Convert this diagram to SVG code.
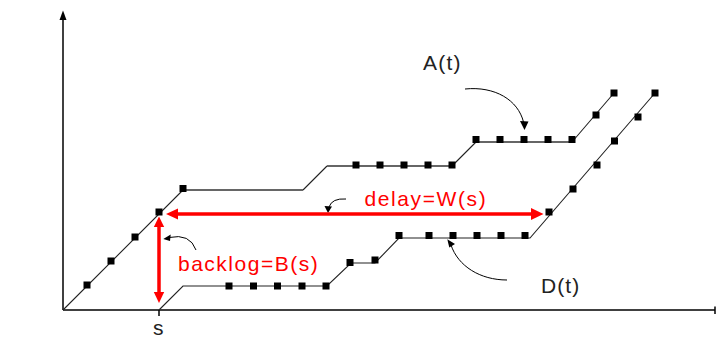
<svg xmlns="http://www.w3.org/2000/svg" width="716" height="337" viewBox="0 0 716 337">
<style>
.axis{stroke:#000;stroke-width:1.5;fill:none}
.curve{stroke:#222;stroke-width:1.1;fill:none}
.flat{stroke:#666;stroke-width:2;fill:none}
.ptr{stroke:#000;stroke-width:1;fill:none}
.red{stroke:#ff0000;stroke-width:3.5;fill:none}
.lbl{font-family:"Liberation Sans",Arial,sans-serif;font-size:21px;fill:#222}
.rlbl{font-family:"Liberation Sans",Arial,sans-serif;font-size:21px;fill:#ff0000}
</style>
<defs>
<rect id="sq" x="-3.5" y="-3.5" width="7" height="7" fill="#000"/>
</defs>
<rect width="716" height="337" fill="#fff"/>
<g id="axes">
<line class="axis" x1="63" y1="310" x2="63" y2="18"/>
<polygon points="63,10.5 59.5,20 66.5,20" fill="#000"/>
<line class="axis" x1="63" y1="310" x2="715" y2="310"/>
<line class="axis" x1="715" y1="306.5" x2="715" y2="314"/>
<line class="axis" x1="159" y1="310" x2="159" y2="316"/>
</g>
<g id="A-curve">
<path class="curve" d="M63,310 L183,190 M303,190 L327,166 M452,166 L476,142 M572,142 L614,93"/>
<path class="flat" d="M183,190 L303,190 M327,166 L452,166 M476,142 L572,142"/>
</g>
<g id="D-curve">
<path class="curve" d="M159,310 L183,286 L327,286 L351,263 L375,263 L399,238 L530,238 L655,93"/>
</g>
<g id="connectors">
<path class="ptr" d="M465,89 C495,86 518,100 523.5,122"/>
<polygon points="524.5,130 520,121 528.5,121.5" fill="#000"/>
<path class="ptr" d="M346,199 Q332,198 329,207"/>
<polygon points="328,213 324.5,206 332,206.5" fill="#000"/>
<path class="ptr" d="M196,250 Q190,233 169,237.5"/>
<polygon points="163.3,239 170.7,234.5 170,241" fill="#000"/>
<path class="ptr" d="M507,280 C480,280 458,266 451,245"/>
<polygon points="447.3,239.3 449.3,247.5 455,244" fill="#000"/>
</g>
<g id="delay-arrow">
<line class="red" x1="176" y1="214" x2="532" y2="214"/>
<polygon points="166,214 178,208.5 178,219.5" fill="#ff0000"/>
<polygon points="543.5,214 531,208 531,220" fill="#ff0000"/>
</g>
<g id="backlog-arrow">
<line class="red" x1="159" y1="225" x2="159" y2="294"/>
<polygon points="159,216.5 153.8,227 164.2,227" fill="#ff0000"/>
<polygon points="159,303 153.8,292 164.2,292" fill="#ff0000"/>
</g>
<g id="A-points">
<use href="#sq" x="87" y="285"/><use href="#sq" x="111" y="261"/><use href="#sq" x="135" y="237"/><use href="#sq" x="159" y="212"/><use href="#sq" x="183" y="188.5"/>
<use href="#sq" x="356" y="165"/><use href="#sq" x="380" y="165"/><use href="#sq" x="404" y="165"/><use href="#sq" x="428" y="165"/><use href="#sq" x="452" y="165"/>
<use href="#sq" x="476" y="139.5"/><use href="#sq" x="500" y="139.5"/><use href="#sq" x="524" y="139.5"/><use href="#sq" x="548" y="139.5"/><use href="#sq" x="572" y="139.5"/>
<use href="#sq" x="596" y="115"/><use href="#sq" x="614" y="93"/>
</g>
<g id="D-points">
<use href="#sq" x="229" y="286"/><use href="#sq" x="253.5" y="286"/><use href="#sq" x="277.5" y="286"/><use href="#sq" x="302" y="286"/><use href="#sq" x="326" y="286"/>
<use href="#sq" x="350" y="262.5"/><use href="#sq" x="375" y="260"/>
<use href="#sq" x="399" y="235.5"/><use href="#sq" x="429" y="235.5"/><use href="#sq" x="453" y="235.5"/><use href="#sq" x="477" y="235.5"/><use href="#sq" x="501" y="235.5"/><use href="#sq" x="525" y="235.5"/>
<use href="#sq" x="549" y="212"/><use href="#sq" x="573" y="189"/><use href="#sq" x="597" y="165"/><use href="#sq" x="614.5" y="141"/><use href="#sq" x="638" y="117"/><use href="#sq" x="655" y="93"/>
</g>
<g id="labels">
<text class="lbl" x="423" y="69.5" letter-spacing="1.2">A(t)</text>
<text class="lbl" x="541" y="293" letter-spacing="1.1">D(t)</text>
<text class="rlbl" x="364.5" y="205.5" letter-spacing="1.6">delay=W(s)</text>
<text class="rlbl" x="178" y="270.5" letter-spacing="1.5">backlog=B(s)</text>
<text class="lbl" x="153" y="334.5" font-size="20">s</text>
</g>
</svg>
